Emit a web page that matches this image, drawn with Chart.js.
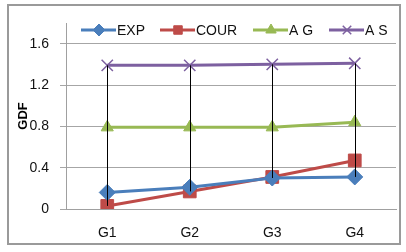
<!DOCTYPE html>
<html>
<head>
<meta charset="utf-8">
<script src="https://cdn.jsdelivr.net/npm/chart.js@4.4.0/dist/chart.umd.min.js"></script>
<style>
  html, body { margin: 0; padding: 0; background: #fff; }
  #wrap { width: 406px; height: 252px; position: relative; }
</style>
</head>
<body>
<div id="wrap"><canvas id="grafico" width="406" height="252"></canvas></div>
<script>
// datos
const categorias = ['G1', 'G2', 'G3', 'G4'];
const serieEXP = [0.16, 0.21, 0.30, 0.31];
const serieCOUR = [0.03, 0.17, 0.31, 0.47];
const serieAG = [0.79, 0.79, 0.79, 0.84];
const serieAS = [1.39, 1.39, 1.40, 1.41];
const ticksY = [0, 0.4, 0.8, 1.2, 1.6];

const fuente = "'Liberation Sans', Arial, sans-serif";

const series = [
  { label: 'EXP', data: serieEXP, color: '#4A7EBB', estilo: 'rectRot', radio: 8, borde: 1 },
  { label: 'COUR', data: serieCOUR, color: '#BE4B48', estilo: 'rect', radio: 9, borde: 1 },
  { label: 'A G', data: serieAG, color: '#98B954', estilo: 'triangle', radio: 7, borde: 1 },
  { label: 'A S', data: serieAS, color: '#7D60A0', estilo: 'crossRot', radio: 8, borde: 1.5 }
];

// lineas alto-bajo (negras) entre el maximo y el minimo de cada categoria
const lineasAltoBajo = {
  id: 'lineasAltoBajo',
  afterDatasetsDraw(chart) {
    const ctx = chart.ctx;
    const y = chart.scales.y;
    const metas = chart.data.datasets.map((d, i) => chart.getDatasetMeta(i));
    ctx.save();
    ctx.strokeStyle = '#000';
    ctx.lineWidth = 1;
    categorias.forEach((c, i) => {
      const vals = chart.data.datasets.map(d => d.data[i]);
      const x = Math.round(metas[0].data[i].x) + 0.5;
      ctx.beginPath();
      ctx.moveTo(x, y.getPixelForValue(Math.max(...vals)));
      ctx.lineTo(x, y.getPixelForValue(Math.min(...vals)));
      ctx.stroke();
    });
    ctx.restore();
  }
};

// marco exterior y leyenda dentro del area
const marcoYLeyenda = {
  id: 'marcoYLeyenda',
  beforeDraw(chart) {
    const ctx = chart.ctx;
    ctx.save();
    ctx.fillStyle = '#fff';
    ctx.fillRect(0, 0, chart.width, chart.height);
    ctx.restore();
  },
  afterDraw(chart) {
    const ctx = chart.ctx;
    ctx.save();
    ctx.strokeStyle = '#9a9a9a';
    ctx.lineWidth = 2;
    ctx.strokeRect(8, 5, 392, 239);

    const posX = [81, 160, 253, 329];
    const radioLey = [6, 6, 6, 6];
    const yLey = 30;
    ctx.font = '14px ' + fuente;
    ctx.textBaseline = 'middle';
    series.forEach((s, i) => {
      const x0 = posX[i];
      ctx.strokeStyle = s.color;
      ctx.fillStyle = s.color;
      ctx.lineWidth = 3;
      ctx.beginPath();
      ctx.moveTo(x0, yLey);
      ctx.lineTo(x0 + 35, yLey);
      ctx.stroke();
      ctx.lineWidth = s.borde;
      Chart.helpers.drawPoint(ctx, { pointStyle: s.estilo, radius: radioLey[i], borderWidth: s.borde, rotation: 0 }, x0 + 18, yLey);
      ctx.fillStyle = '#111';
      ctx.fillText(s.label, x0 + 36, yLey + 1);
    });
    ctx.restore();
  }
};

new Chart(document.getElementById('grafico'), {
  type: 'line',
  data: {
    labels: categorias,
    datasets: series.map(s => ({
      label: s.label,
      data: s.data,
      borderColor: s.color,
      backgroundColor: s.color,
      borderWidth: 3,
      pointStyle: s.estilo,
      pointRadius: s.radio,
      pointBorderWidth: s.borde,
      pointBackgroundColor: s.color,
      pointBorderColor: s.color,
      tension: 0
    }))
  },
  options: {
    responsive: false,
    animation: false,
    layout: { padding: { left: 0, right: 8, top: 23, bottom: 0 } },
    plugins: {
      legend: { display: false },
      tooltip: { enabled: false }
    },
    scales: {
      x: {
        offset: true,
        grid: { display: false, drawTicks: false },
        border: { display: true, color: '#a0a0a0', width: 1 },
        ticks: { color: '#111', font: { family: fuente, size: 14 }, padding: 16 },
        afterFit(scale) { scale.height = 43; }
      },
      y: {
        min: 0,
        max: 1.8,
        grid: { color: '#a6a6a6', lineWidth: 1, tickLength: 6, drawTicks: true },
        border: { display: true, color: '#a0a0a0', width: 1 },
        ticks: {
          stepSize: 0.4,
          color: '#111',
          padding: 11,
          font: { family: fuente, size: 14 },
          callback: v => String(Math.round(v * 10) / 10)
        },
        afterBuildTicks(scale) {
          scale.ticks = ticksY.map(v => ({ value: v }));
        },
        title: {
          display: true,
          text: 'GDF',
          color: '#000',
          font: { family: fuente, size: 13, weight: 'bold' },
          padding: { top: 16, bottom: 0 }
        },
        afterFit(scale) { scale.width = 66; }
      }
    }
  },
  plugins: [lineasAltoBajo, marcoYLeyenda]
});
</script>
</body>
</html>
